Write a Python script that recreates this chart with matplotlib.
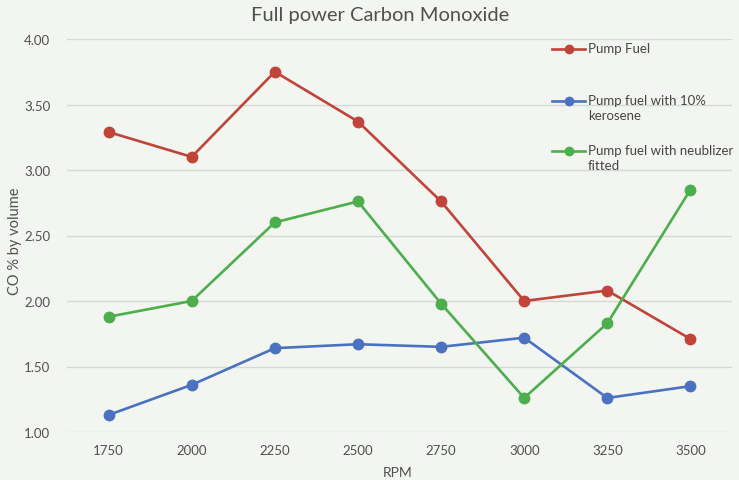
import matplotlib
matplotlib.use("Agg")
import matplotlib.pyplot as plt
from matplotlib.lines import Line2D

rpm = ["1750", "2000", "2250", "2500", "2750", "3000", "3250", "3500"]
pump_fuel = [3.29, 3.10, 3.75, 3.37, 2.76, 2.00, 2.08, 1.71]
kerosene = [1.13, 1.36, 1.64, 1.67, 1.65, 1.72, 1.26, 1.35]
neublizer = [1.88, 2.00, 2.60, 2.76, 1.98, 1.26, 1.83, 2.85]

series_names = ["Pump Fuel", "Pump fuel with 10%\nkerosene", "Pump fuel with neublizer\nfitted"]
series_values = [pump_fuel, kerosene, neublizer]
colors = ["#c0443a", "#4a72c0", "#4cae4c"]

y_ticks = [1.00, 1.50, 2.00, 2.50, 3.00, 3.50, 4.00]

plt.rcParams['font.family'] = ['Lato', 'DejaVu Sans']
bg = "#f3f6f0"
W, H = 739, 481
fig = plt.figure(figsize=(W / 100, H / 100), dpi=100, facecolor=bg)
ax = fig.add_axes([67 / W, 1 - 433 / H, (732 - 67) / W, (433 - 40) / H])
ax.set_facecolor(bg)

x = list(range(len(rpm)))
for vals, c in zip(series_values, colors):
    ax.plot(x, vals, color=c, lw=1.9, marker='o', markersize=7.5, zorder=3)

ax.set_xlim(-0.5, len(rpm) - 0.5)
ax.set_ylim(1.0, 4.0)
ax.set_yticks(y_ticks)
ax.set_yticklabels([f"{v:.2f}" for v in y_ticks])
ax.set_xticks(x)
ax.set_xticklabels(rpm)
ax.grid(axis='y', color='#d6d9d3', lw=1.0)
ax.set_axisbelow(True)
for s in ax.spines.values():
    s.set_visible(False)
ax.tick_params(axis='both', length=0, labelsize=9.5, colors='#505050')
ax.tick_params(axis='y', pad=12)
ax.tick_params(axis='x', pad=9)

fig.text(380 / W, 1 - 16 / H, "Full power Carbon Monoxide", ha='center', va='center',
         fontsize=14.5, color='#505050')
fig.text(15 / W, 1 - 241 / H, "CO % by volume", rotation=90, ha='center', va='center',
         fontsize=10.5, color='#505050')
fig.text(398 / W, 1 - 473 / H, "RPM", ha='center', va='center', fontsize=10, color='#505050')

# legend (overlaid, entries top-aligned in equal slots)
leg_y = [50, 102, 152]
for name, c, yy in zip(series_names, colors, leg_y):
    yf = 1 - yy / H
    fig.add_artist(Line2D([552 / W, 585 / W], [yf, yf], transform=fig.transFigure,
                          color=c, lw=1.9))
    fig.add_artist(Line2D([568.5 / W], [yf], transform=fig.transFigure, color=c,
                          marker='o', markersize=6, lw=0))
    fig.text(588 / W, 1 - (yy - 7) / H, name, ha='left', va='top', fontsize=9.5,
             color='#454545', linespacing=1.3)

fig.savefig("out.png", dpi=100, facecolor=bg)
